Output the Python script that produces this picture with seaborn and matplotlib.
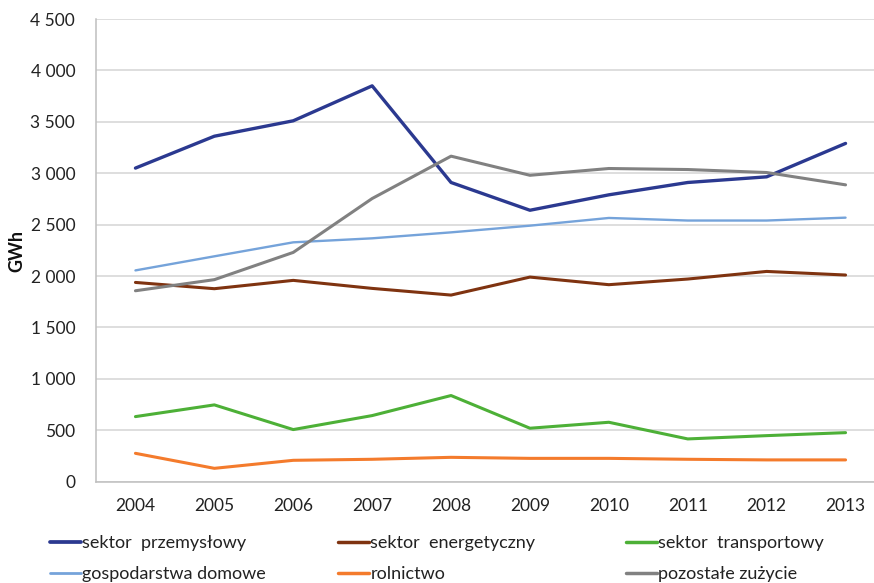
import matplotlib
matplotlib.use("Agg")
import matplotlib.pyplot as plt
import seaborn as sns
import pandas as pd
from matplotlib.lines import Line2D
from matplotlib.ticker import FuncFormatter, FixedLocator

years = [2004, 2005, 2006, 2007, 2008, 2009, 2010, 2011, 2012, 2013]
przemyslowy = [3050, 3360, 3510, 3850, 2910, 2640, 2790, 2910, 2965, 3290]
energetyczny = [1938, 1877, 1958, 1880, 1815, 1990, 1916, 1971, 2045, 2010]
transportowy = [633, 747, 507, 643, 838, 520, 578, 416, 448, 477]
gospodarstwa = [2055, 2192, 2328, 2367, 2425, 2490, 2565, 2540, 2540, 2568]
rolnictwo = [276, 130, 208, 218, 237, 227, 227, 218, 212, 212]
pozostale = [1857, 1965, 2230, 2754, 3166, 2980, 3046, 3036, 3007, 2887]

names = ["sektor  przemysłowy", "sektor  energetyczny", "sektor  transportowy",
         "gospodarstwa domowe", "rolnictwo", "pozostałe zużycie"]
series = [przemyslowy, energetyczny, transportowy, gospodarstwa, rolnictwo, pozostale]
colors = ["#2B3990", "#7F3310", "#4DB037", "#75A3DA", "#F47B2C", "#818181"]
widths = [2.4, 2.2, 2.2, 1.7, 2.2, 2.2]

sns.set_theme(style="white")
plt.rcParams['font.family'] = ['Lato', 'DejaVu Sans']

fig = plt.figure(figsize=(8.74, 5.83), dpi=100)
ax = fig.add_axes([96/874, (583-481.7)/583, 789/874, 462.7/583])

rows = []
for n, s in zip(names, series):
    for y, v in zip(years, s):
        rows.append({"rok": y, "GWh": v, "seria": n})
df = pd.DataFrame(rows)

for n, c, w in zip(names, colors, widths):
    sns.lineplot(data=df[df["seria"] == n], x="rok", y="GWh", color=c,
                 linewidth=w, ax=ax, legend=False)

ax.set_xlim(2003.5, 2013.5)
ax.set_ylim(0, 4500)
ax.set_yticks(range(0, 4501, 500))
ax.yaxis.set_major_formatter(FuncFormatter(lambda v, p: f"{int(v):,}".replace(",", " ")))
ax.set_xticks(years)
ax.set_xticklabels([str(y) for y in years])
ax.xaxis.set_minor_locator(FixedLocator([2003.5 + k for k in range(11)]))
ax.tick_params(axis="x", which="major", length=0, pad=12, labelsize=12.5, colors="#222222")
ax.tick_params(axis="x", which="minor", length=6, width=1, color="#BFBFBF", direction="out")
ax.tick_params(axis="y", length=0, pad=15, labelsize=12.5, colors="#222222")
ax.grid(axis="y", color="#D4D4D4", linewidth=1.1)
ax.grid(axis="x", visible=False)
for s in ["top", "right"]:
    ax.spines[s].set_visible(False)
for s in ["left", "bottom"]:
    ax.spines[s].set_color("#BFBFBF")
    ax.spines[s].set_linewidth(1.1)
ax.set_xlabel("")
ax.set_ylabel("")
fig.text(17/874, 1 - 251/583, "GWh", rotation=90, ha="center", va="center",
         fontsize=13, fontweight="bold", color="#111111")

col_x = [50/874, 338/874, 626/874]
order = [[0, 3], [1, 4], [2, 5]]
for cx, idxs in zip(col_x, order):
    handles = [Line2D([], [], color=colors[i], linewidth=widths[i] + 0.3) for i in idxs]
    labels = [names[i] for i in idxs]
    leg = fig.legend(handles, labels, loc="upper left", bbox_to_anchor=(cx, 1 - 535/583),
                     frameon=False, fontsize=13, handlelength=1.7, handletextpad=0.1,
                     labelspacing=0.85, borderaxespad=0, borderpad=0)
    for t in leg.get_texts():
        t.set_color("#222222")

fig.savefig("out.png", dpi=100)
